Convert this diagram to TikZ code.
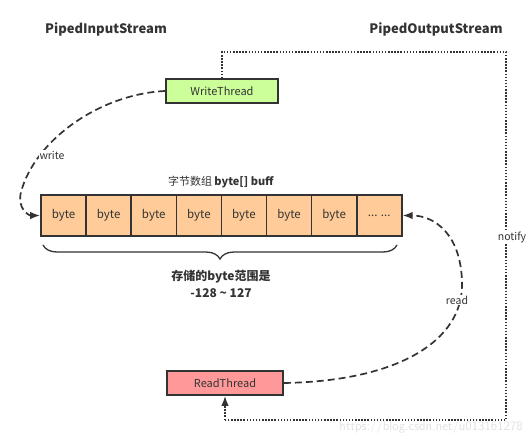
\documentclass[tikz,border=0pt]{standalone}
\usepackage{fontspec}
\setmainfont{Noto Sans CJK SC}
\usetikzlibrary{arrows.meta,decorations.pathreplacing}
\definecolor{ink}{HTML}{333333}
\definecolor{wgreen}{HTML}{CCFF99}
\definecolor{rred}{HTML}{FF9999}
\definecolor{corange}{HTML}{FFCC99}
\tikzset{
  thread/.style={draw=ink,line width=1.6pt,minimum width=112pt,minimum height=24pt,inner sep=0pt,text=ink,font=\fontsize{11}{12}\selectfont},
  cell/.style={draw=ink,line width=1.6pt,fill=corange,minimum width=45.1pt,minimum height=41pt,inner sep=0pt,text=ink,font=\fontsize{11.5}{12}\selectfont},
  title/.style={text=ink,font=\bfseries\fontsize{13}{14}\selectfont,inner sep=0pt},
  flow/.style={draw=ink,line width=1.7pt,dash pattern=on 7pt off 4pt,-{Latex[length=10pt,width=7.5pt]}},
  notif/.style={draw=ink,line width=1.5pt,dash pattern=on 1.5pt off 1.6pt},
  lbl/.style={fill=white,text=ink,font=\fontsize{10.5}{12}\selectfont,inner sep=1pt}
}
\begin{document}
\begin{tikzpicture}[x=1pt,y=-1pt]
\useasboundingbox (0,0) rectangle (530,445);
\node[title] (pin) at (106,29) {PipedInputStream};
\node[title] (pout) at (436,29) {PipedOutputStream};
\node[thread,fill=wgreen] (wt) at (222,91) {WriteThread};
\node[thread,fill=rred,minimum width=116pt] (rt) at (225,383) {ReadThread};
\foreach \i/\t in {1/byte,2/byte,3/byte,4/byte,5/byte,6/byte,7/byte,8/{... ...}}{
  \node[cell] (c\i) at ({41+45.1*(\i-0.5)},215.5) {\t};
}
\node[text=ink,inner sep=0pt,font=\fontsize{11}{12}\selectfont] (cap) at (221,182) {字节数组 \textbf{byte[] buff}};
\draw[ink,line width=1.3pt,decorate,decoration={brace,mirror,amplitude=14pt}] (43,245) -- (397,245);
\node[text=ink,inner sep=0pt,align=center,font=\bfseries\fontsize{12}{17}\selectfont] (rng) at (221,284) {存储的byte范围是\\-128 \textasciitilde{} 127};
% dotted notify
\coordinate (d1) at (222,52);
\coordinate (d2) at (506,52);
\coordinate (d3) at (506,420);
\coordinate (d4) at (225,420);
\draw[notif] (wt.north) -- (d1) -- (d2) -- (d3) -- (d4);
\draw[notif,-{Latex[length=10pt,width=7.5pt]}] (d4) -- (rt.south);
\node[lbl] (nt) at (512,237) {notify};
% write
\draw[flow] (wt.west) .. controls (100,94) and (35,140) .. (21,192) .. controls (17,208) and (28,215.5) .. (c1.west);
\node[lbl] (wl) at (52,155) {write};
% read
\draw[flow] (rt.east) .. controls (400,381) and (462,340) .. (462,285) .. controls (462,235) and (435,215.5) .. (c8.east);
\node[lbl] (rl) at (457,300) {read};
\node[text=black!12,font=\sffamily\fontsize{13}{14}\selectfont,inner sep=0pt,anchor=east] (wm) at (523,427) {https://blog.csdn.net/u013161278};
\end{tikzpicture}
\end{document}
